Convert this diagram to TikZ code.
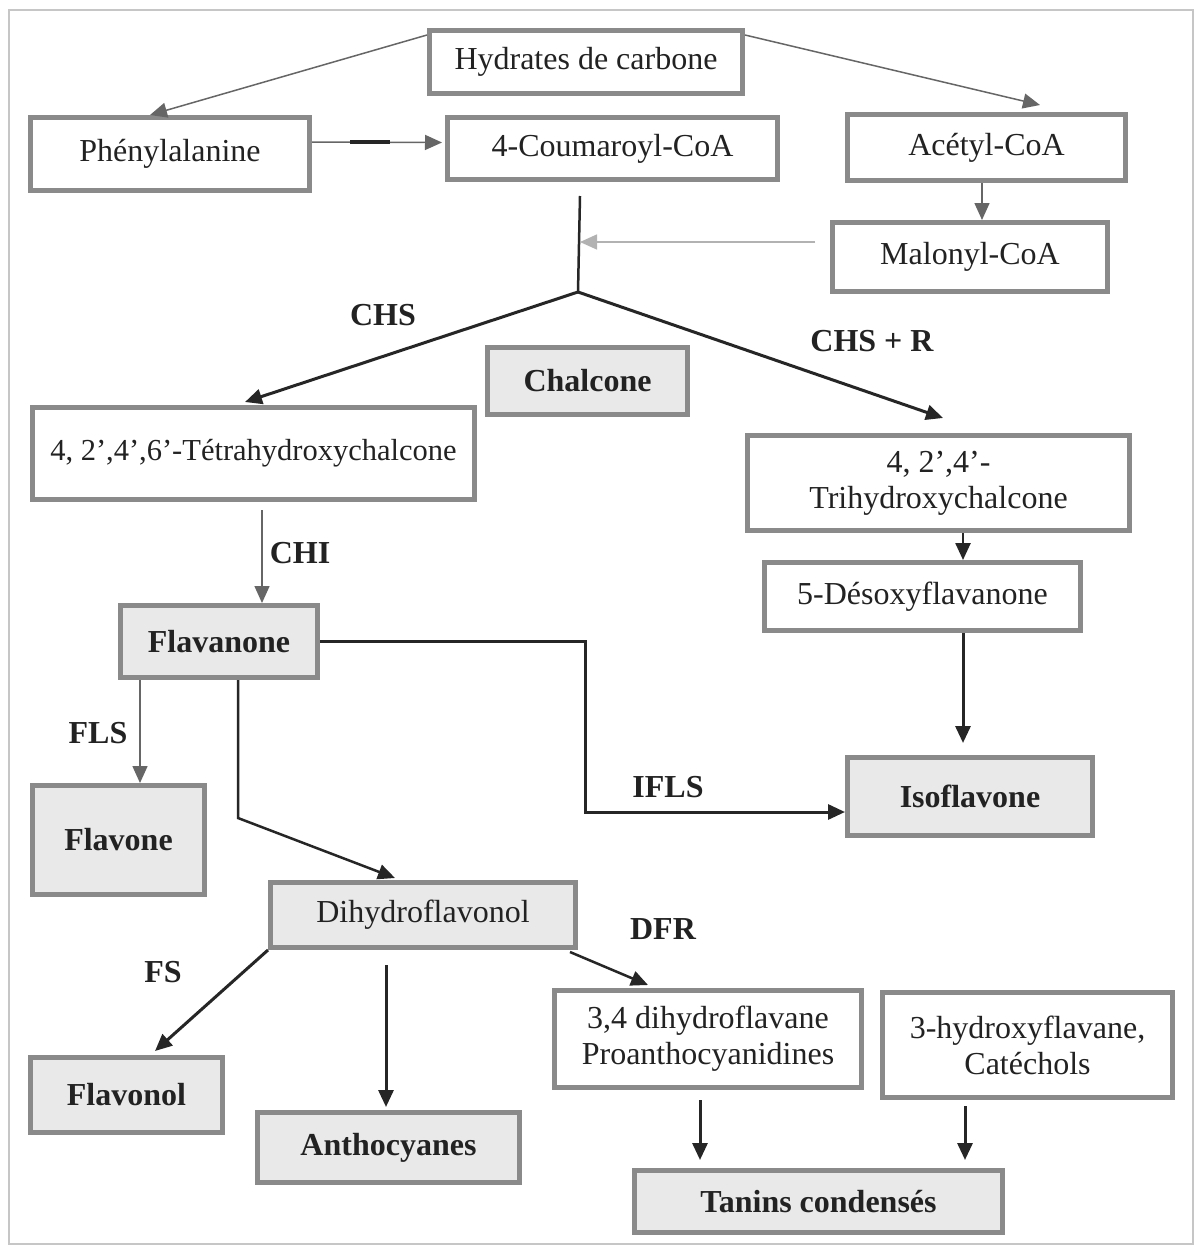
\documentclass[tikz,border=0pt]{standalone}
\usepackage{fontspec}
\setmainfont{Liberation Serif}
\usetikzlibrary{arrows.meta}
\definecolor{boxline}{HTML}{8A8A8A}
\definecolor{boxfill}{HTML}{E9E9E9}
\definecolor{txt}{HTML}{222222}
\tikzset{
  bx/.style={draw=boxline, line width=5pt, inner sep=0pt, align=center, text=txt,
    font=\fontsize{32}{36}\selectfont},
  wbox/.style={bx, fill=white},
  gbox/.style={bx, fill=boxfill},
  gbold/.style={bx, fill=boxfill, font=\fontsize{32}{36}\selectfont\bfseries},
  lbl/.style={text=txt, font=\fontsize{32}{36}\selectfont\bfseries, inner sep=0pt},
  tip/.style={-{Triangle[length=17pt,width=15pt]}},
  thin/.style={tip, draw=gray!80!black, line width=1.5pt},
  thick/.style={tip, draw=black!85, line width=3pt},
}
\begin{document}
\begin{tikzpicture}[x=1pt,y=-1pt]
\fill[white] (0,0) rectangle (1197,1250);
\useasboundingbox (0,0) rectangle (1197,1250);
\draw[gray!45, line width=2pt] (9,10) rectangle (1193,1244);

% boxes
\node[wbox, minimum width=313pt, minimum height=63pt] (hyd) at (586,62) {Hydrates de carbone};
\node[wbox, minimum width=279pt, minimum height=73pt] (phe) at (170,154) {Phénylalanine};
\node[wbox, minimum width=330pt, minimum height=62pt] (cou) at (612.5,148.5) {4-Coumaroyl-CoA};
\node[wbox, minimum width=278pt, minimum height=66pt] (ace) at (986.5,147.5) {Acétyl-CoA};
\node[wbox, minimum width=275pt, minimum height=69pt] (mal) at (970,257) {Malonyl-CoA};
\node[gbold, minimum width=200pt, minimum height=67pt] (cha) at (587.5,381) {Chalcone};
\node[wbox, minimum width=442pt, minimum height=92pt, font=\fontsize{30.5}{36}\selectfont] (tet) at (253.5,453.5) {4, 2’,4’,6’-Tétrahydroxychalcone};
\node[wbox, minimum width=382pt, minimum height=95pt] (tri) at (938.5,483) {4, 2’,4’-\\Trihydroxychalcone};
\node[wbox, minimum width=316pt, minimum height=68pt] (des) at (922.5,596.5) {5-Désoxyflavanone};
\node[gbold, minimum width=197pt, minimum height=72pt] (flv) at (219,641.5) {Flavanone};
\node[gbold, minimum width=172pt, minimum height=109pt] (flo) at (118.5,840) {Flavone};
\node[gbold, minimum width=245pt, minimum height=78pt] (iso) at (970,796.5) {Isoflavone};
\node[gbox, minimum width=305pt, minimum height=65pt] (dih) at (423,915) {Dihydroflavonol};
\node[gbold, minimum width=192pt, minimum height=75pt] (fvl) at (126.5,1095) {Flavonol};
\node[gbold, minimum width=262pt, minimum height=70pt] (ant) at (388.5,1147.5) {Anthocyanes};
\node[wbox, minimum width=307pt, minimum height=97pt] (pro) at (708,1039) {3,4 dihydroflavane\\Proanthocyanidines};
\node[wbox, minimum width=290pt, minimum height=105pt] (cat) at (1027.5,1045) {3-hydroxyflavane,\\Catéchols};
\node[gbold, minimum width=368pt, minimum height=62pt] (tan) at (818.5,1201.5) {Tanins condensés};

% labels
\node[lbl] (lchs) at (383,315) {CHS};
\node[lbl] (lchsr) at (872,341) {CHS + R};
\node[lbl] (lchi) at (300,553) {CHI};
\node[lbl] (lfls) at (98,733) {FLS};
\node[lbl] (lifls) at (668,787) {IFLS};
\node[lbl] (lfs) at (163,972) {FS};
\node[lbl] (ldfr) at (663,929) {DFR};

% junction
\coordinate (jtop) at (580,196);
\coordinate (j) at (578,292);
\coordinate (jm) at (580,242);
\coordinate (hl) at (427,35);
\coordinate (hr) at (745,35);

% connectors
\draw[thin] (hl) -- ([xshift=-20pt]phe.north);
\draw[thin] (hr) -- ([xshift=53.5pt,yshift=7pt]ace.north);
\draw[thin] ([yshift=12pt]phe.east) -- ([xshift=-3pt,yshift=6pt]cou.west);
\draw[black!85, line width=4pt] (350,142) -- (390,142);
\draw[thin] ([xshift=-4.5pt]ace.south) -- ([xshift=12pt]mal.north);
\draw[black!85, line width=2.5pt] (jtop) -- (j);
\draw[thin, draw=gray!60] ([xshift=-15pt,yshift=15pt]mal.west) -- (jm);
\draw[thick] (j) -- ([xshift=-8.5pt,yshift=3pt]tet.north);
\draw[thick] (j) -- ([xshift=4.5pt,yshift=15pt]tri.north);
\draw[thin] ([xshift=8.5pt,yshift=-8pt]tet.south) -- ([xshift=43pt]flv.north);
\draw[thick, line width=2.5pt] ([xshift=24.5pt]tri.south) -- ([xshift=40.5pt]des.north);
\draw[thick] ([xshift=40.5pt]des.south) -- ([xshift=-7pt,yshift=12pt]iso.north);
\draw[thick] (flv.east) -- (585,641.5) -- (585,812) -- ([yshift=-15.5pt]iso.west);
\draw[thin] ([xshift=-79pt]flv.south) -- ([xshift=21.5pt]flo.north);
\draw[thick, line width=2.5pt] ([xshift=19pt]flv.south) -- (238,818) -- ([xshift=-28pt,yshift=2pt]dih.north);
\draw[thick] (dih.south west) -- ([xshift=28.5pt,yshift=4pt]fvl.north);
\draw[thick] ([xshift=-37pt,yshift=-15pt]dih.south) -- ([xshift=-2.5pt,yshift=3pt]ant.north);
\draw[thick, line width=2.5pt] ([xshift=-8pt,yshift=-2pt]dih.south east) -- ([xshift=-60pt,yshift=3pt]pro.north);
\draw[thick] ([xshift=-8pt,yshift=-10pt]pro.south) -- ([xshift=-118.5pt,yshift=8pt]tan.north);
\draw[thick] ([xshift=-62.5pt,yshift=-6pt]cat.south) -- ([xshift=146.5pt,yshift=8pt]tan.north);
\end{tikzpicture}
\end{document}
